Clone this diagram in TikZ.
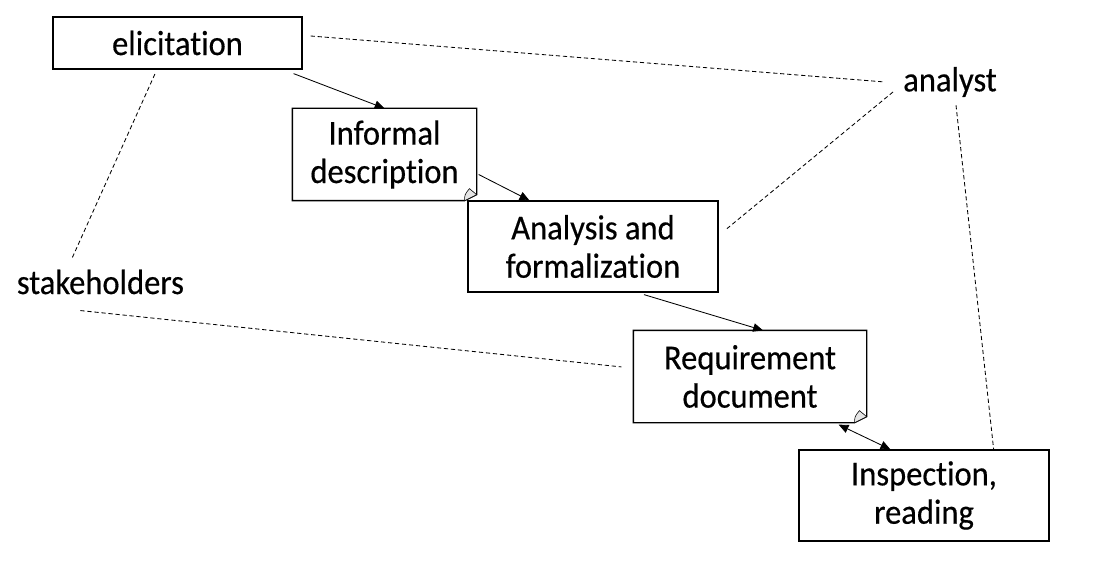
\documentclass[tikz,border=0pt]{standalone}
\usepackage{fontspec}
\setmainfont{Carlito}[Ligatures=NoCommon, FakeStretch=0.93, FakeBold=0.4]
\usetikzlibrary{arrows.meta}

\tikzset{
  box/.style={draw, line width=0.9pt, minimum height=2.275cm, align=center,
    font=\fontsize{24.9}{27.3}\selectfont},
  docbox/.style={box, draw=none},
  actor/.style={inner sep=0.2cm, font=\fontsize{24.9}{27.3}\selectfont},
  flow/.style={line width=0.6pt, -{Triangle[length=7pt,width=6pt]}},
  both/.style={line width=0.6pt, {Triangle[length=7pt,width=6pt]}-{Triangle[length=7pt,width=6pt]}},
  link/.style={line width=0.6pt, dash pattern=on 3pt off 2pt}
}

% outline of a document box with a folded corner
\newcommand{\docoutline}[1]{
  \draw[line width=0.9pt] (#1.north west) -- (#1.north east) -- ([yshift=0.15cm]#1.south east)
    -- ([xshift=-0.3cm]#1.south east) -- (#1.south west) -- cycle;
  \draw[line width=0.4pt, fill=black!10] ([xshift=-0.3cm]#1.south east)
    .. controls ([shift={(-0.3,0.15)}]#1.south east) .. ([shift={(-0.18,0.3)}]#1.south east)
    -- ([yshift=0.15cm]#1.south east) -- cycle;
}

\begin{document}
\begin{tikzpicture}
\useasboundingbox (0,0) rectangle (27.375,-14.3);

% process steps
\node[box, minimum width=6.225cm, minimum height=1.3cm] (elic) at (4.4375,-1.075) {elicitation};
\node[docbox, minimum width=4.575cm] (inf) at (9.6125,-3.8625) {Informal\\description};
\node[box, minimum width=6.25cm] (ana) at (14.825,-6.1625) {Analysis and\\formalization};
\node[docbox, minimum width=5.8cm] (req) at (18.75,-9.4125) {Requirement\\document};
\node[box, minimum width=6.25cm] (insp) at (23.1,-12.3875) {Inspection,\\reading};
\docoutline{inf}
\docoutline{req}

% roles
\node[actor] (analyst) at (23.75,-2.05) {analyst};
\node[actor] (stake) at (2.51,-7.05) {stakeholders};

% flow
\draw[flow] ([shift={(-0.225,-0.1)}]elic.south east) -- (inf.north);
\draw[flow] ([shift={(0.05,-0.5)}]inf.east) -- ([xshift=1.55cm]ana.north west);
\draw[flow] ([shift={(1.275,-0.05)}]ana.south) -- ([xshift=0.325cm]req.north);
\draw[both] ([shift={(-0.7,-0.05)}]req.south east) -- ([xshift=2.3cm]insp.north west);

% who takes part
\draw[link] ([shift={(0.2,0.175)}]elic.east) -- ([xshift=-0.25cm]analyst.west);
\draw[link] ([shift={(-0.05,-0.25)}]analyst.west) -- ([shift={(0.2,0.44)}]ana.east);
\draw[link] ([xshift=0.15cm]analyst.south) -- ([xshift=-1.4cm]insp.north east);
\draw[link] ([shift={(-0.7,0.1)}]stake.north) -- ([shift={(-0.56,-0.1)}]elic.south);
\draw[link] ([shift={(-0.5,-0.2)}]stake.south) -- ([shift={(-0.3,0.24)}]req.west);

\end{tikzpicture}
\end{document}
